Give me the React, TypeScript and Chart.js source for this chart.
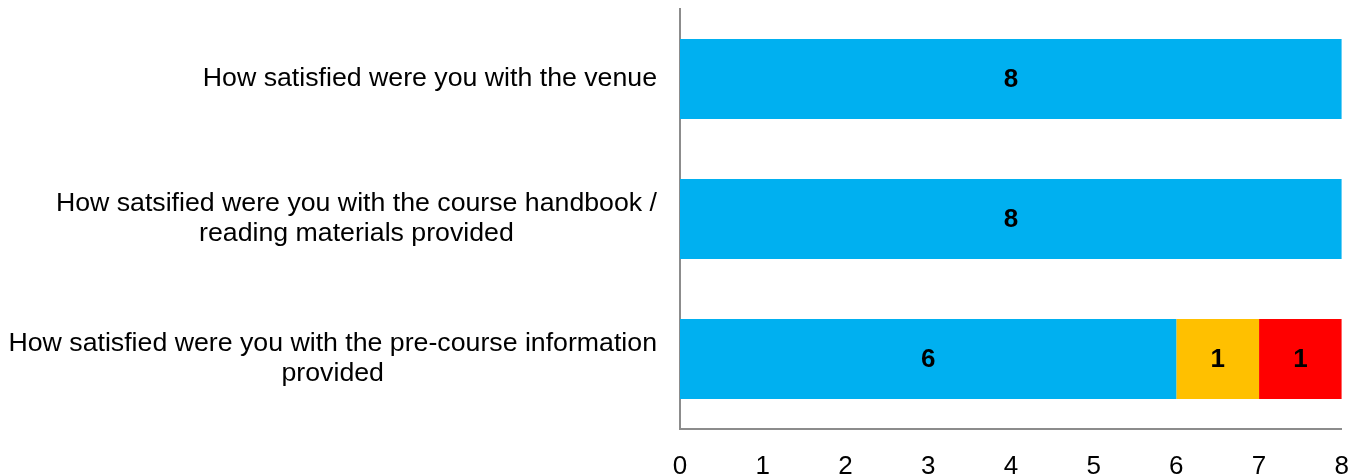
import React, { useEffect, useRef } from "react";
import { Chart, registerables } from "chart.js";

Chart.register(...registerables);

const categories: string[][] = [
  ["How satisfied were you with the venue"],
  ["How satsified were you with the course handbook /", "reading materials provided"],
  ["How satisfied were you with the pre-course information", "provided"],
];
const seriesNames = ["Satisfied", "Neutral", "Dissatisfied"];
const satisfiedValues = [8, 8, 6];
const neutralValues = [0, 0, 1];
const dissatisfiedValues = [0, 0, 1];
const tickValues = [0, 1, 2, 3, 4, 5, 6, 7, 8];

const FONT = "'Liberation Sans', Arial, sans-serif";

const labelsPlugin = {
  id: "customLabels",
  afterDatasetsDraw(chart: any) {
    const ctx = chart.ctx;
    ctx.save();
    // data labels
    ctx.font = `bold 26px ${FONT}`;
    ctx.fillStyle = "#000";
    ctx.textAlign = "center";
    ctx.textBaseline = "middle";
    chart.data.datasets.forEach((ds: any, di: number) => {
      const meta = chart.getDatasetMeta(di);
      meta.data.forEach((el: any, i: number) => {
        const v = ds.data[i];
        if (!v) return;
        const cx = (el.x + el.base) / 2;
        ctx.fillText(String(v), cx, el.y + 1);
      });
    });
    // category labels
    const yScale = chart.scales.y;
    const right = chart.chartArea.left - 23;
    const sx = 1.027;
    ctx.font = `26px ${FONT}`;
    const lh = 30;
    categories.forEach((lines, i) => {
      const cy = yScale.getPixelForValue(i);
      const maxW = Math.max(...lines.map((l) => ctx.measureText(l).width)) * sx;
      const cx = right - maxW / 2;
      const startY = cy - ((lines.length - 1) * lh) / 2;
      lines.forEach((l, j) => {
        ctx.save();
        ctx.translate(cx, startY + j * lh);
        ctx.scale(sx, 1);
        ctx.fillText(l, 0, 0);
        ctx.restore();
      });
    });
    ctx.restore();
  },
};

export default function App() {
  const ref = useRef<HTMLCanvasElement | null>(null);
  useEffect(() => {
    document.body.style.margin = "0";
    document.body.style.background = "#fff";
    const chart = new Chart(ref.current as HTMLCanvasElement, {
      type: "bar",
      data: {
        labels: categories.map((c) => c.join(" ")),
        datasets: [
          { label: seriesNames[0], data: satisfiedValues, backgroundColor: "#00B0F0" },
          { label: seriesNames[1], data: neutralValues, backgroundColor: "#FFC000" },
          { label: seriesNames[2], data: dissatisfiedValues, backgroundColor: "#FF0000" },
        ],
      },
      options: {
        indexAxis: "y",
        animation: false,
        responsive: false,
        maintainAspectRatio: false,
        layout: { padding: { top: 9, right: 18, left: 0, bottom: 0 } },
        datasets: { bar: { categoryPercentage: 0.571, barPercentage: 1 } },
        plugins: { legend: { display: false }, tooltip: { enabled: false } },
        scales: {
          x: {
            stacked: true,
            min: 0,
            max: 8,
            afterBuildTicks: (scale: any) => {
              scale.ticks = tickValues.map((v) => ({ value: v }));
            },
            afterFit: (scale: any) => {
              scale.height = 47;
            },
            grid: { display: false },
            border: { display: true, color: "#8c8c8c", width: 2 },
            ticks: {
              padding: 14,
              color: "#000",
              font: { family: FONT, size: 26 },
            },
          },
          y: {
            stacked: true,
            afterFit: (scale: any) => {
              scale.width = 680;
            },
            grid: { display: false },
            border: { display: true, color: "#8c8c8c", width: 2 },
            ticks: { display: false },
          },
        },
      },
      plugins: [labelsPlugin],
    } as any);
    return () => chart.destroy();
  }, []);
  return (
    <div style={{ width: 1363, height: 476 }}>
      <canvas ref={ref} width={1363} height={476} style={{ display: "block" }} />
    </div>
  );
}
